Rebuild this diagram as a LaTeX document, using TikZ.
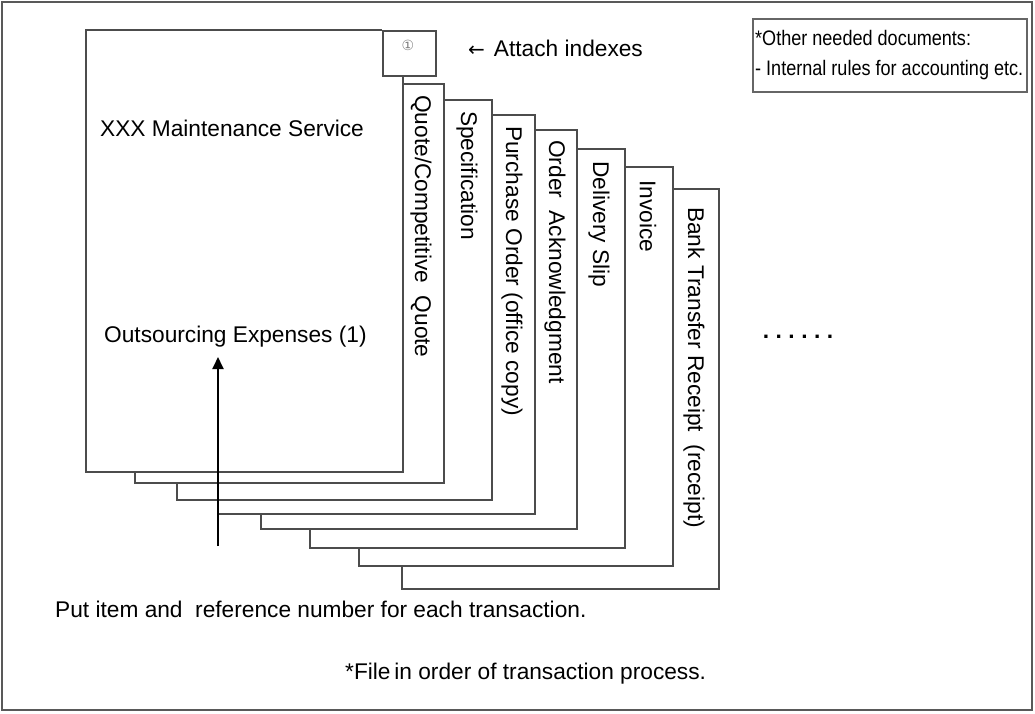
\documentclass[tikz,border=0pt]{standalone}
\usepackage{fontspec}
\setmainfont{Liberation Sans}
\newfontfamily\narrowfont[FakeStretch=0.86]{Liberation Sans}
\newfontfamily\symfont{DejaVu Sans}
\usetikzlibrary{arrows.meta}
\tikzset{
  page/.style={draw=black!70, line width=1.6pt, line join=miter},
  big/.style={font=\fontsize{22.7}{27}\selectfont, inner sep=0pt},
  vlabel/.style={big, rotate=-90, anchor=west},
  frame/.style={draw=black!65, line width=2pt},
}
\begin{document}
\begin{tikzpicture}[x=1pt,y=-1pt]
\useasboundingbox (0,0) rectangle (1035,713);
\draw[frame] (2,2) rectangle (1032,710);

% stacked pages (back to front)
\draw[page] (402,566) -- (402,589) -- (719,589) -- (719,189) -- (673,189);
\draw[page] (359,548) -- (359,566) -- (673,566) -- (673,167) -- (625,167);
\draw[page] (310,529) -- (310,548) -- (625,548) -- (625,149) -- (577,149);
\draw[page] (261,514) -- (261,529) -- (577,529) -- (577,130) -- (535,130);
\draw[page] (218,500) -- (218,514) -- (535,514) -- (535,115) -- (492,115);
\draw[page] (177,483) -- (177,500) -- (492,500) -- (492,100) -- (444,100);
\draw[page] (135,472) -- (135,483) -- (444,483) -- (444,84) -- (403,84);
% front page
\draw[page] (403,75) -- (403,472) -- (86,472) -- (86,30) -- (382,30);
\node[page, fill=white, minimum width=53pt, minimum height=45pt, inner sep=0pt, anchor=north west] (tab) at (382,30) {};
\node[font=\symfont\fontsize{14}{15}\selectfont, text=black!50, inner sep=0pt] (one) at (408,45) {①};

% tab labels
\node[vlabel] (q) at (421,95) {Quote/Competitive\ \ Quote};
\node[vlabel] (s) at (467,111) {Specification};
\node[vlabel] (p) at (512,126) {Purchase Order (office copy)};
\node[vlabel] (o) at (555,140) {Order\ \ Acknowledgment};
\node[vlabel] (d) at (599,161) {Delivery Slip};
\node[vlabel] (i) at (648,180) {Invoice};
\node[vlabel] (b) at (694,207) {Bank\ Transfer\ Receipt\ \ (receipt)};

% page texts
\node[big, anchor=west] (title) at (100,128) {XXX Maintenance Service};
\node[big, anchor=west] (outs) at (104,337) {Outsourcing Expenses (1)};
\coordinate (start) at (218,546);
\coordinate (tip) at (218,357);
\draw[line width=2pt, -{Triangle[length=12pt,width=11pt]}] (start) -- (tip);

% attach indexes
\node[big, anchor=west] (attach) at (468,48) {{\symfont\fontsize{20}{22}\selectfont ←}\kern9pt Attach indexes};

% dots
\node[font=\fontsize{22.7}{27}\selectfont\bfseries, inner sep=0pt] (dots) at (798,337) {.\kern6.5pt.\kern6.5pt.\kern6.5pt.\kern6.5pt.\kern6.5pt.};

% bottom texts
\node[big, anchor=west] (put) at (55,609) {Put item and\ \ reference number\ for each transaction.};
\node[big, anchor=west] (file) at (345,674) {*File\,in order of transaction process.};

% other documents box
\node[draw=black!60, line width=2pt, minimum width=274pt, minimum height=73pt, inner sep=0pt, anchor=north west] (other) at (752,18) {};
\node[font=\narrowfont\fontsize{21}{30}\selectfont, align=left, anchor=west, inner sep=0pt] (othertext) at (755,55) {*Other needed documents:\\- Internal rules for accounting etc.};
\end{tikzpicture}
\end{document}
